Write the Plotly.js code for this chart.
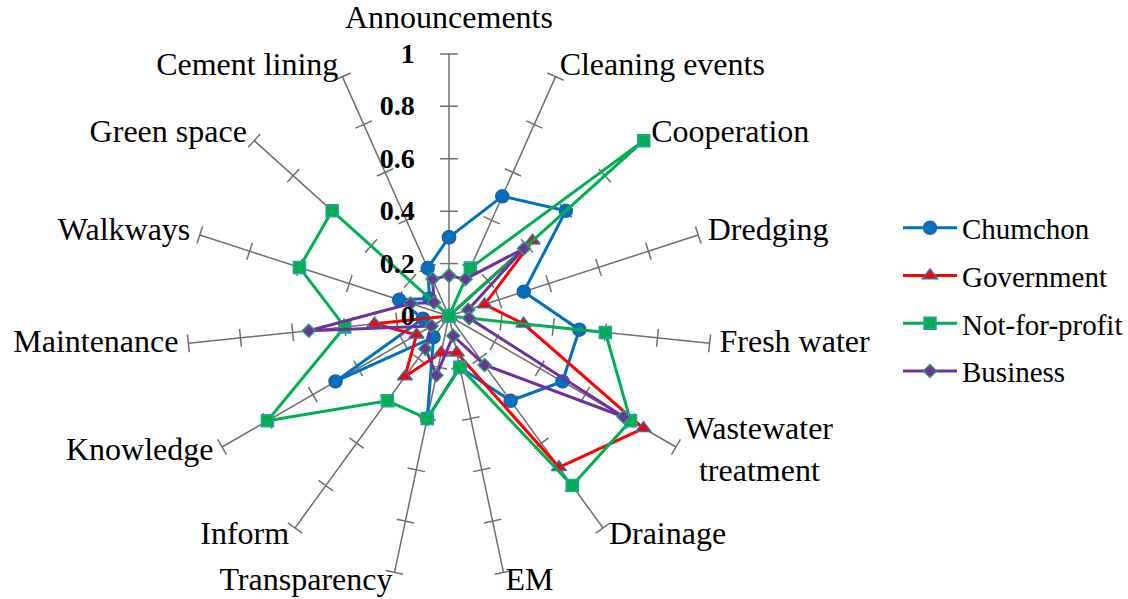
<!DOCTYPE html>
<html>
<head>
<meta charset="utf-8">
<script src="https://cdn.plot.ly/plotly-3.0.1.min.js"></script>
<style>
  html, body { margin: 0; padding: 0; background: #fff; }
  #chart { width: 1128px; height: 599px; }
</style>
</head>
<body>
<div id="chart"></div>
<script>
// Stakeholder engagement profile across 15 canal-management activities
const categories = ['Announcements', 'Cleaning events', 'Cooperation', 'Dredging', 'Fresh water',
  'Wastewater treatment', 'Drainage', 'EM', 'Transparency', 'Inform', 'Knowledge',
  'Maintenance', 'Walkways', 'Green space', 'Cement lining'];

const chumchon     = [0.3, 0.5, 0.6, 0.3, 0.5, 0.5, 0.4, 0.2, 0.4, 0.1, 0.5, 0.1, 0.2, 0.1, 0.2];
const government   = [0, 0, 0.429, 0.143, 0.286, 0.857, 0.714, 0.143, 0.143, 0.286, 0.143, 0.286, 0, 0, 0];
const notForProfit = [0, 0.2, 1.0, 0, 0.6, 0.8, 0.8, 0.2, 0.4, 0.4, 0.8, 0.4, 0.6, 0.6, 0];
const business     = [0.154, 0.154, 0.385, 0.077, 0.077, 0.769, 0.231, 0.077, 0.231, 0.154, 0.077, 0.538, 0.154, 0.077, 0.154];

const radialTicks = [0, 0.2, 0.4, 0.6, 0.8, 1];
const rMax = 1.08;            // headroom past 1 for the category labels

// angular position of each category (degrees, category index spread over the circle)
const step = 360 / categories.length;
const thetas = categories.map((c, i) => i * step);

function closed(arr) { return arr.concat([arr[0]]); }
const thetaClosed = closed(thetas);

// spokes from the centre to 1 for every category
const spokeR = [], spokeT = [];
thetas.forEach(t => { spokeR.push(0, 1, null); spokeT.push(t, t, null); });

// small cross-ticks on every spoke, at each radial tick value
const half = 0.034;
const tickR = [], tickT = [];
thetas.forEach(t => {
  radialTicks.filter(v => v > 0).forEach(v => {
    const rr = Math.sqrt(v * v + half * half);
    const dt = Math.atan(half / v) * 180 / Math.PI;
    tickR.push(rr, rr, null);
    tickT.push(t - dt, t + dt, null);
  });
});

// category labels sit just beyond the end of each spoke, anchored away from the centre
const sideGap = 0.038, endGap = 0.068;
const labelText = categories.map(c => c.replace('Wastewater treatment', 'Wastewater<br>\u00a0\u2009treatment'));
const labelPos = [], labelR = [];
thetas.forEach(t => {
  const a = (90 - t) * Math.PI / 180;          // clockwise from the top
  const c = Math.cos(a), s = Math.sin(a);
  if (c > 0.05) { labelPos.push('middle right'); labelR.push(1 + sideGap); }
  else if (c < -0.05) { labelPos.push('middle left'); labelR.push(1 + sideGap); }
  else { labelPos.push(s > 0 ? 'top center' : 'bottom center'); labelR.push(1 + endGap); }
});

const font = 'Liberation Serif, Times New Roman, serif';
const axisGrey = '#6f6f6f';

function series(name, values, color, symbol, size, edge, group) {
  return {
    type: 'scatterpolar', mode: 'lines+markers', name: name,
    r: closed(values), theta: thetaClosed,
    line: { color: color, width: 3 },
    marker: { symbol: symbol, size: size, color: color, line: { color: edge, width: 1.5 } },
    legendgroup: group, hoverinfo: 'name+r', cliponaxis: false
  };
}

const traces = [
  {
    type: 'scatterpolar', mode: 'lines', r: spokeR, theta: spokeT,
    line: { color: axisGrey, width: 1.5 }, showlegend: false, hoverinfo: 'skip',
    cliponaxis: false, connectgaps: false
  },
  {
    type: 'scatterpolar', mode: 'lines', r: tickR, theta: tickT,
    line: { color: axisGrey, width: 1.5 }, showlegend: false, hoverinfo: 'skip',
    cliponaxis: false, connectgaps: false
  },
  {
    type: 'scatterpolar', mode: 'text', r: labelR, theta: thetas,
    text: labelText, textposition: labelPos,
    textfont: { family: font, size: 32, color: '#000' },
    showlegend: false, hoverinfo: 'skip', cliponaxis: false
  },
  series('Chumchon', chumchon, '#0070C0', 'circle', 13, '#2460a0', 'a'),
  series('Government', government, '#FF0000', 'triangle-up', 13, '#2E75B6', 'b'),
  series('Not-for-profit', notForProfit, '#00B050', 'square', 12, '#2A9FA6', 'c'),
  series('Business', business, '#7030A0', 'diamond', 10, '#26A065', 'd')
];

// polar area: centre (449, 317) px, value 1 at 263 px
const cx = 449, cy = 317, unit = 263, W = 1128, H = 599;
const R = unit * rMax;

const layout = {
  width: W, height: H,
  margin: { l: 0, r: 0, t: 0, b: 0 },
  paper_bgcolor: '#ffffff',
  showlegend: true,
  legend: {
    x: 1, y: 0.5, xanchor: 'right', yanchor: 'middle',
    font: { family: font, size: 29, color: '#000' },
    itemwidth: 54, tracegroupgap: 7, bgcolor: 'rgba(0,0,0,0)'
  },
  polar: {
    domain: { x: [(cx - R) / W, (cx + R) / W], y: [(H - cy - R) / H, (H - cy + R) / H] },
    bgcolor: 'rgba(0,0,0,0)',
    angularaxis: {
      type: 'linear', thetaunit: 'degrees', rotation: 90, direction: 'clockwise',
      tickmode: 'array', tickvals: thetas, showticklabels: false,
      showline: false, ticks: '', showgrid: false
    },
    radialaxis: {
      range: [0, rMax], angle: 90, side: 'counterclockwise', tickangle: 90,
      tickmode: 'array', tickvals: radialTicks, ticktext: radialTicks.map(String),
      showgrid: false, showline: false,
      ticks: 'outside', ticklen: 24, tickcolor: 'rgba(0,0,0,0)',
      tickfont: { family: font, size: 28, color: '#000', weight: 'bold' },
      layer: 'above traces'
    }
  }
};

Plotly.newPlot('chart', traces, layout, { displayModeBar: false, staticPlot: true });
</script>
</body>
</html>
